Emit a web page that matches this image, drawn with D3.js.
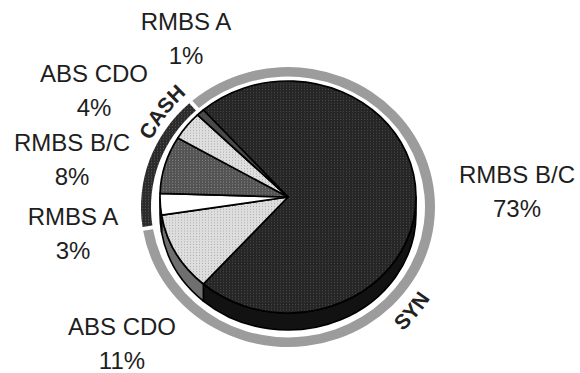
<!DOCTYPE html>
<html>
<head>
<meta charset="utf-8">
<script src="https://cdn.jsdelivr.net/npm/d3@7"></script>
<style>
  html, body { margin: 0; padding: 0; background: #fff; }
  svg { display: block; }
</style>
</head>
<body>
<svg id="chart" width="580" height="373"></svg>
<script>
// Portfolio split by collateral type, grouped into cash and synthetic exposure
const sliceNames   = ["RMBS B/C", "ABS CDO", "RMBS A", "RMBS B/C", "ABS CDO", "RMBS A"];
const sliceValues  = [73, 11, 3, 8, 4, 1];
const sliceGroups  = ["SYN", "SYN", "CASH", "CASH", "CASH", "CASH"];
const groupNames   = ["SYN", "CASH"];

// Appearance of each slice (top face fill, side fill)
const sliceFills = ["url(#pDark)", "url(#pLight)", "#ffffff", "url(#pMid)", "url(#pLight)", "#4a4a4a"];
const sideFills  = ["#121212", "#6f6f6f", "#b8b8b8", "#333333", "#8a8a8a", "#2a2a2a"];
const ringFills  = { SYN: "#9c9c9c", CASH: "url(#pRing)" };

// Label anchors: [centre x, baseline of first line]
const labelPos = [[517, 183], [122, 335], [73, 225], [72, 151], [94, 82], [186, 30]];

const svg = d3.select("#chart");

// Halftone-like fills
const defs = svg.append("defs");
function dotPattern(id, base, dot) {
  const p = defs.append("pattern").attr("id", id)
    .attr("width", 3).attr("height", 3).attr("patternUnits", "userSpaceOnUse");
  p.append("rect").attr("width", 3).attr("height", 3).attr("fill", base);
  p.append("rect").attr("x", 1).attr("y", 1).attr("width", 1).attr("height", 1).attr("fill", dot);
}
dotPattern("pDark", "#262626", "#4c4c4c");
dotPattern("pLight", "#dedede", "#a9a9a9");
dotPattern("pMid", "#545454", "#888888");
dotPattern("pRing", "#2b2b2b", "#5a5a5a");

// Pie geometry
const cx = 288, cy = 197, rx = 128, ry = 116, depth = 17;
const startAngle = -41.4 * Math.PI / 180;

const pie = d3.pie().sort(null).value(d => d.value)
  .startAngle(startAngle).endAngle(startAngle + 2 * Math.PI);
const data = sliceNames.map((n, i) => ({ name: n, value: sliceValues[i], group: sliceGroups[i], i }));
const arcs = pie(data);

// Point on the pie rim for angle a (clockwise from 12 o'clock)
const rim = (a, dy = 0) => [cx + rx * Math.sin(a), cy - ry * Math.cos(a) + dy];

// Side wall of the tilted pie: only the front half (angles 90°..270°) is visible
const sideG = svg.append("g");
arcs.forEach(d => {
  const lo = Math.max(d.startAngle, Math.PI / 2);
  const hi = Math.min(d.endAngle, 3 * Math.PI / 2);
  if (hi <= lo) return;
  const p0 = rim(lo), p1 = rim(hi), q1 = rim(hi, depth), q0 = rim(lo, depth);
  const large = hi - lo > Math.PI ? 1 : 0;
  const path = `M${p0}A${rx},${ry} 0 ${large} 1 ${p1}L${q1}A${rx},${ry} 0 ${large} 0 ${q0}Z`;
  sideG.append("path").attr("d", path)
    .attr("fill", sideFills[d.data.i])
    .attr("stroke", "#000").attr("stroke-width", 1.6).attr("stroke-linejoin", "round");
});

// Top faces
const arcGen = d3.arc().innerRadius(0).outerRadius(rx);
svg.append("g")
  .attr("transform", `translate(${cx},${cy}) scale(1,${ry / rx})`)
  .selectAll("path").data(arcs).join("path")
  .attr("d", arcGen)
  .attr("fill", d => sliceFills[d.data.i])
  .attr("stroke", "#000")
  .attr("stroke-width", 1.7)
  .attr("stroke-linejoin", "round")
  .attr("vector-effect", "non-scaling-stroke");

// Outer ring grouping the slices into SYN and CASH
const rcx = 288, rcy = 207, rIn = 137, rOut = 147, ringYScale = 0.952;
const groupData = groupNames.map(g => ({
  name: g,
  value: d3.sum(data.filter(d => d.group === g), d => d.value)
}));
const ringArcs = pie(groupData);
const ringArc = d3.arc().innerRadius(rIn).outerRadius(rOut).padAngle(0.02);
svg.append("g")
  .attr("transform", `translate(${rcx},${rcy}) scale(1,${ringYScale})`)
  .selectAll("path").data(ringArcs).join("path")
  .attr("d", ringArc)
  .attr("fill", d => ringFills[d.data.name]);

// Group names set along the ring
const deg = Math.PI / 180;
const ringPt = (a, r) => [rcx + r * Math.sin(a * deg), rcy - r * Math.cos(a * deg)];
const ringText = [
  { name: "CASH", r: 152, from: 267, to: 347, sweep: 1 },
  { name: "SYN",  r: 169, from: 160, to: 100, sweep: 0 }
];
ringText.forEach((t, k) => {
  defs.append("path").attr("id", "rt" + k)
    .attr("d", `M${ringPt(t.from, t.r)}A${t.r},${t.r} 0 0 ${t.sweep} ${ringPt(t.to, t.r)}`);
  svg.append("text")
    .attr("font-family", "'Liberation Sans', Arial, sans-serif")
    .attr("font-size", 21).attr("font-weight", "bold").attr("fill", "#222")
    .append("textPath").attr("href", "#rt" + k)
    .attr("startOffset", "50%").attr("text-anchor", "middle")
    .text(t.name);
});

// Slice labels: name and share
const lab = svg.append("g")
  .attr("font-family", "'Liberation Sans', Arial, sans-serif")
  .attr("font-size", 24).attr("fill", "#1e1e1e").attr("text-anchor", "middle");
arcs.forEach(d => {
  const [x, y] = labelPos[d.data.i];
  lab.append("text").attr("x", x).attr("y", y).text(d.data.name);
  lab.append("text").attr("x", x).attr("y", y + 34).text(d.data.value + "%");
});
</script>
</body>
</html>
